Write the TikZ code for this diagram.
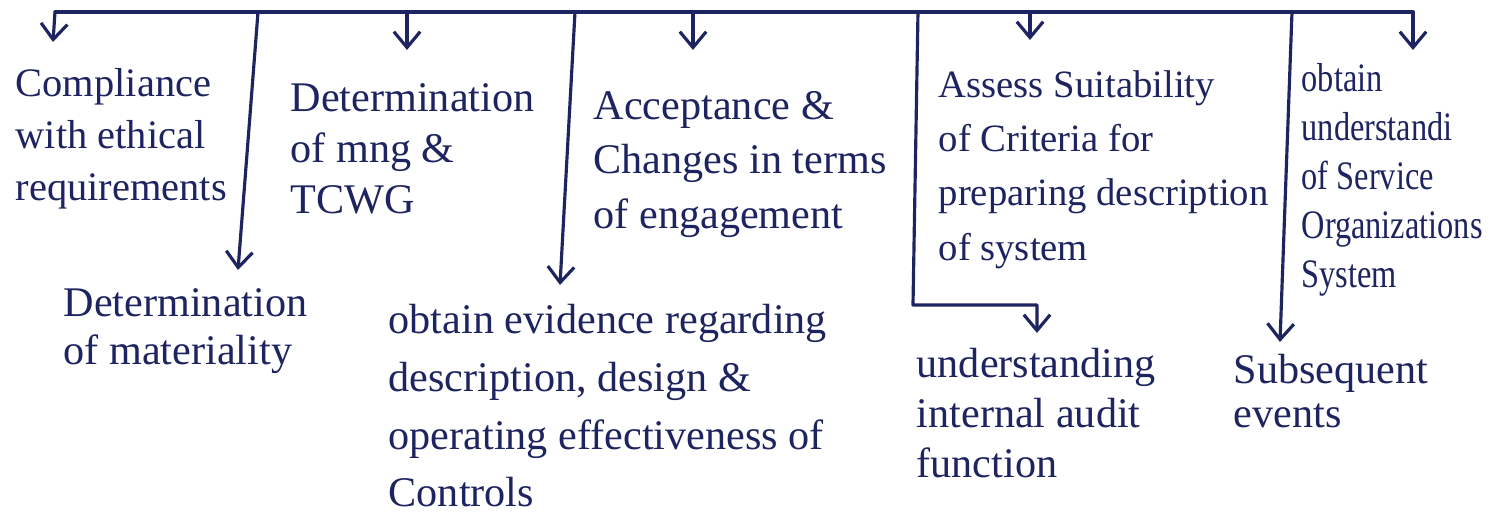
\documentclass[tikz,border=0pt]{standalone}
\usepackage{fontspec}
\setmainfont{Liberation Serif}
\newfontfamily\narrowfont{Liberation Serif}[FakeStretch=0.8]
\usetikzlibrary{arrows.meta}
\definecolor{ink}{RGB}{30,36,96}
\tikzset{
  wire/.style={draw=ink, line width=0.9pt, line cap=round, line join=round},
  arr/.style={wire, -{Straight Barb[length=4.5pt,width=7.5pt,line width=0.9pt]}},
  lbl/.style={anchor=north west, inner sep=0pt, align=left, text=ink},
}
\newcommand{\hwsize}[1]{\fontsize{12}{#1}\selectfont}
\begin{document}
\begin{tikzpicture}[x=0.01cm,y=-0.01cm]
\fill[white] (0,0) rectangle (1502,516);
\useasboundingbox (0,0) rectangle (1502,516);

% labels
\node[lbl, font={\fontsize{11.5}{14.8}\selectfont}] (comp) at (15,68) {Compliance\\with ethical\\requirements};
\node[lbl, font=\hwsize{14.5}] (mng) at (290,83) {Determination\\of mng \&\\TCWG};
\node[lbl, font=\hwsize{15.4}] (acc) at (593,91) {Acceptance \&\\Changes in terms\\of engagement};
\node[lbl, font={\fontsize{11}{15.4}\selectfont}] (ass) at (938,70) {Assess Suitability\\of Criteria for\\preparing description\\of system};
\node[lbl, font={\narrowfont\fontsize{11.5}{13.9}\selectfont}] (obt) at (1301,63) {obtain\\understandi\\of Service\\Organizations\\System};
\node[lbl, font=\hwsize{13.6}] (mat) at (63,288) {Determination\\of materiality};
\node[lbl, font=\hwsize{16.4}] (evi) at (388,304) {obtain evidence regarding\\description, design \&\\operating effectiveness of\\Controls};
\node[lbl, font=\hwsize{14.2}] (und) at (916,348) {understanding\\internal audit\\function};
\node[lbl, font=\hwsize{12.5}] (sub) at (1233,354) {Subsequent\\events};

% junctions on the top line
\coordinate (j0) at (55,12);
\coordinate (j1) at (258,12);
\coordinate (j2) at (407,12);
\coordinate (j3) at (575,12);
\coordinate (j4) at (693,12);
\coordinate (j5) at (918,12);
\coordinate (j6) at (1030,12);
\coordinate (j7) at (1292,12);
\coordinate (j8) at (1413,12);

% arrow tips
\coordinate (t0) at (53,42);
\coordinate (t1) at (238,270);
\coordinate (t2) at (407,50);
\coordinate (t3) at (560,285);
\coordinate (t4) at (693,50);
\coordinate (e1) at (913,305);
\coordinate (e2) at (1037,305);
\coordinate (t5) at (1037,333);
\coordinate (t6) at (1030,40);
\coordinate (t7) at (1280,342);
\coordinate (t8) at (1413,50);

\draw[wire] (j0) -- (j8);
\draw[arr] (j0) -- (t0);
\draw[arr] (j1) -- (t1);
\draw[arr] (j2) -- (t2);
\draw[arr] (j3) -- (t3);
\draw[arr] (j4) -- (t4);
\draw[arr] (j5) -- (e1) -- (e2) -- (t5);
\draw[arr] (j6) -- (t6);
\draw[arr] (j7) -- (t7);
\draw[arr] (j8) -- (t8);
\end{tikzpicture}
\end{document}
